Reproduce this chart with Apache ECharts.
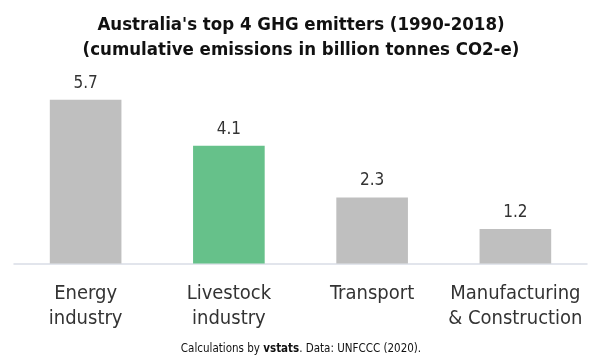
<!DOCTYPE html>
<html><head><meta charset="utf-8">
<script src="https://cdn.jsdelivr.net/npm/echarts@6/dist/echarts.min.js"></script>
<style>html,body{margin:0;padding:0;background:#fff}#c{width:602px;height:360px}</style>
</head><body><div id="c"></div>
<script>
var categories = ['Energy\nindustry', 'Livestock\nindustry', 'Transport', 'Manufacturing\n& Construction'];
var values = [5.7, 4.1, 2.3, 1.2];
var barColors = ['#bfbfbf', '#66c18a', '#bfbfbf', '#bfbfbf'];
var FONT = '"DejaVu Sans Condensed","Liberation Sans Narrow","Roboto",sans-serif';
var chart = echarts.init(document.getElementById('c'));
chart.setOption({
  animation: false,
  title: [{
    text: "Australia's top 4 GHG emitters (1990-2018)\n(cumulative emissions in billion tonnes CO2-e)",
    left: 'center', top: 8,
    textStyle: {fontFamily: FONT, fontWeight: 'bold', fontSize: 18.5, lineHeight: 25, color: '#111'}
  }, {
    text: '{a|Calculations by }{b|vstats}{a|. Data: UNFCCC (2020).}',
    left: 'center', top: 338,
    textStyle: {fontWeight: 'normal', rich: {
      a: {fontFamily: FONT, fontSize: 11.5, fontWeight: 'normal', color: '#111'},
      b: {fontFamily: FONT, fontSize: 11.5, fontWeight: 'bold', color: '#111'}
    }}
  }],
  grid: {left: 14, right: 15, top: 91, bottom: 96.5, containLabel: false},
  xAxis: {
    type: 'category', data: categories,
    axisLine: {lineStyle: {color: '#d9dde6', width: 1.5}},
    axisTick: {show: false},
    axisLabel: {fontFamily: FONT, fontSize: 20, lineHeight: 25, color: '#333', margin: 18, interval: 0}
  },
  yAxis: {type: 'value', min: 0, max: 6, show: false, splitLine: {show: false}},
  series: [{
    type: 'bar', barWidth: '50%',
    data: values.map(function (v, i) { return {value: v, itemStyle: {color: barColors[i]}}; }),
    label: {show: true, position: 'top', distance: 8, fontFamily: FONT, fontSize: 17, color: '#333',
      formatter: function (p) { return p.value.toFixed(1); }}
  }]
});
</script></body></html>
